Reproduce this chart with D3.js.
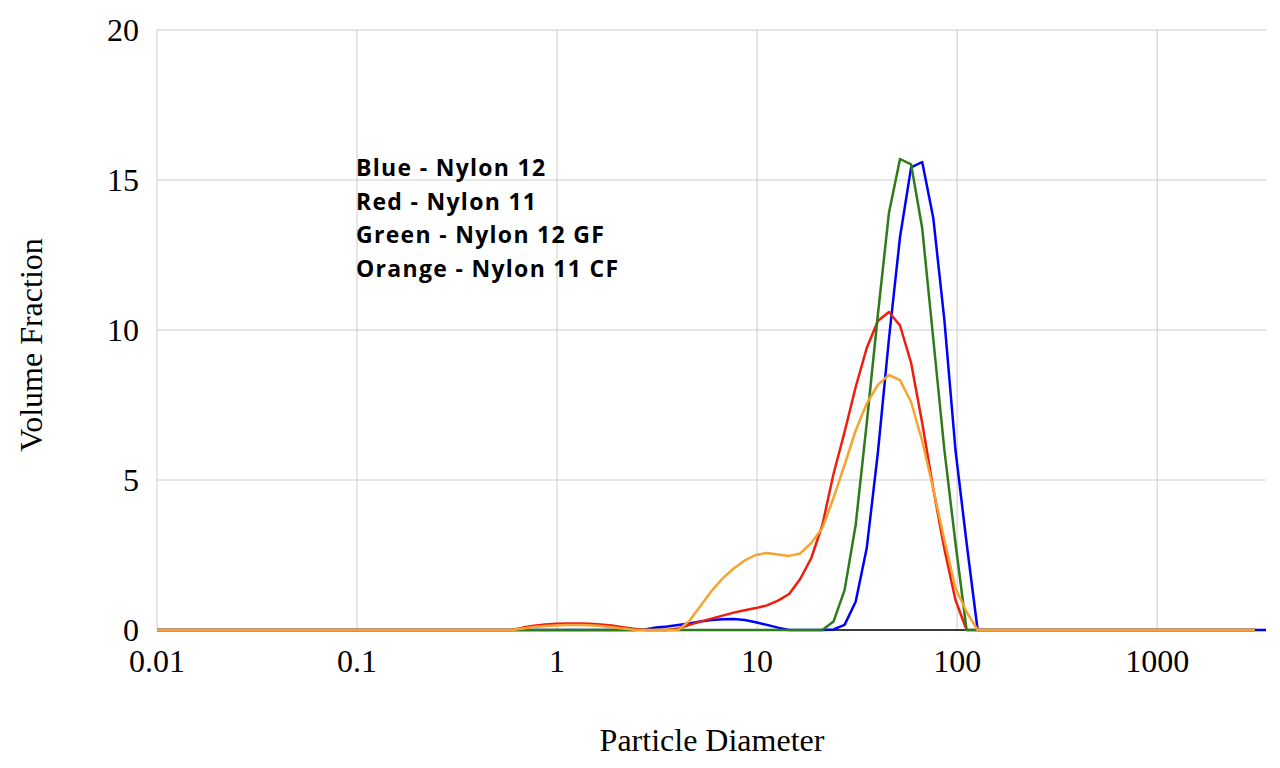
<!DOCTYPE html>
<html>
<head>
<meta charset="utf-8">
<script src="https://cdn.jsdelivr.net/npm/d3@7"></script>
<style>
  body { margin: 0; background: #fff; }
  .tick-label { font-family: "Liberation Serif", "Times New Roman", serif; font-size: 32px; fill: #000; }
  .axis-title { font-family: "Liberation Serif", "Times New Roman", serif; font-size: 32px; fill: #000; }
  .note { font-family: "Open Sans", sans-serif; font-weight: 700; font-size: 23px; letter-spacing: 1.3px; fill: #000; }
</style>
</head>
<body>
<div id="chart"></div>
<script>
// particle size bins (µm), log spaced; first/last are the ends of the measured range
var sizes = [0.01,
  0.4605, 0.5232, 0.5944, 0.6753, 0.7673, 0.8718, 0.9905, 1.125, 1.279, 1.453,
  1.651, 1.875, 2.131, 2.421, 2.751, 3.126, 3.551, 4.035, 4.584, 5.208,
  5.916, 6.722, 7.637, 8.677, 9.857, 11.20, 12.72, 14.46, 16.42, 18.66,
  21.20, 24.09, 27.37, 31.10, 35.33, 40.14, 45.61, 51.82, 58.88, 66.89,
  76.00, 86.35, 98.10, 111.5, 126.6, 143.9,
  3080, 3500];

var blue = [0,
  0, 0, 0, 0, 0, 0, 0, 0, 0, 0,
  0, 0, 0, 0, 0.02, 0.08, 0.12, 0.17, 0.22, 0.28,
  0.33, 0.36, 0.37, 0.33, 0.26, 0.17, 0.08, 0, 0, 0,
  0, 0.02, 0.17, 0.94, 2.73, 5.9, 9.7, 13.1, 15.42, 15.6,
  13.73, 10.33, 6.0, 2.9, 0, 0,
  0, 0];

var red = [0,
  0, 0, 0, 0.08, 0.14, 0.18, 0.21, 0.22, 0.22, 0.21,
  0.18, 0.15, 0.09, 0.04, 0, 0, 0, 0.05, 0.17, 0.28,
  0.38, 0.48, 0.58, 0.66, 0.73, 0.82, 0.98, 1.2, 1.7, 2.4,
  3.5, 5.2, 6.6, 8.1, 9.4, 10.3, 10.6, 10.15, 8.9, 6.9,
  4.7, 2.7, 1.0, 0, 0, 0,
  0, null];

var green = [0,
  0, 0, 0, 0, 0, 0, 0, 0, 0, 0,
  0, 0, 0, 0, 0, 0, 0, 0, 0, 0,
  0, 0, 0, 0, 0, 0, 0, 0, 0, 0,
  0, 0.28, 1.33, 3.5, 6.9, 10.5, 13.9, 15.7, 15.52, 13.39,
  9.7, 6.0, 2.9, 0, 0, 0,
  0, null];

var orange = [0,
  0, 0, 0, 0.05, 0.1, 0.13, 0.15, 0.17, 0.17, 0.16,
  0.13, 0.09, 0.05, 0.01, 0, 0, 0, 0, 0.3, 0.8,
  1.3, 1.72, 2.05, 2.32, 2.5, 2.57, 2.52, 2.47, 2.55, 2.9,
  3.4, 4.4, 5.5, 6.65, 7.55, 8.17, 8.5, 8.33, 7.6, 6.3,
  4.7, 3.0, 1.4, 0.6, 0, 0,
  0, null];

var xTicks = [0.01, 0.1, 1, 10, 100, 1000];
var xTickLabels = ["0.01", "0.1", "1", "10", "100", "1000"];
var yTicks = [0, 5, 10, 15, 20];
var notes = ["Blue - Nylon 12", "Red - Nylon 11", "Green - Nylon 12 GF", "Orange - Nylon 11 CF"];

var series = [
  {name: "Nylon 12", values: blue, color: "#0000ff"},
  {name: "Nylon 11", values: red, color: "#f01c0c"},
  {name: "Nylon 12 GF", values: green, color: "#2e7b1a"},
  {name: "Nylon 11 CF", values: orange, color: "#f5a431"}
];

var margin = {top: 30, right: 14, bottom: 138, left: 157};
var width = 1280 - margin.left - margin.right,
    height = 768 - margin.top - margin.bottom;

var svg = d3.select("#chart").append("svg")
    .attr("width", 1280)
    .attr("height", 768)
  .append("g")
    .attr("transform", "translate(" + margin.left + "," + margin.top + ")");

var x = d3.scaleLog().domain([0.01, 3500]).range([0, width]);
var y = d3.scaleLinear().domain([0, 20]).range([height, 0]);

// grid
svg.selectAll(".hgrid").data(yTicks).enter().append("line")
    .attr("x1", 0).attr("x2", width)
    .attr("y1", function(d) { return y(d); }).attr("y2", function(d) { return y(d); })
    .attr("stroke", "#cccccc").attr("stroke-width", 1);

svg.selectAll(".vgrid").data(xTicks).enter().append("line")
    .attr("x1", function(d) { return x(d); }).attr("x2", function(d) { return x(d); })
    .attr("y1", 0).attr("y2", height)
    .attr("stroke", "#cccccc").attr("stroke-width", 1);

// baseline
svg.append("line")
    .attr("x1", 0).attr("x2", width)
    .attr("y1", y(0)).attr("y2", y(0))
    .attr("stroke", "#000").attr("stroke-width", 1.5);

// tick labels
svg.selectAll(".ylab").data(yTicks).enter().append("text")
    .attr("class", "tick-label")
    .attr("x", -18)
    .attr("y", function(d) { return y(d); })
    .attr("dy", "0.35em")
    .attr("text-anchor", "end")
    .text(function(d) { return d; });

svg.selectAll(".xlab").data(xTicks).enter().append("text")
    .attr("class", "tick-label")
    .attr("x", function(d) { return x(d); })
    .attr("y", height + 42)
    .attr("text-anchor", "middle")
    .text(function(d, i) { return xTickLabels[i]; });

// axis titles
svg.append("text")
    .attr("class", "axis-title")
    .attr("x", 712 - margin.left)
    .attr("y", 751 - margin.top)
    .attr("text-anchor", "middle")
    .text("Particle Diameter");

svg.append("text")
    .attr("class", "axis-title")
    .attr("transform", "translate(" + (42 - margin.left) + "," + (345 - margin.top) + ") rotate(-90)")
    .attr("text-anchor", "middle")
    .text("Volume Fraction");

// lines
var line = d3.line()
    .defined(function(d) { return d[1] !== null; })
    .x(function(d) { return x(d[0]); })
    .y(function(d) { return y(d[1]); });

series.forEach(function(s) {
    var pts = sizes.map(function(d, i) { return [d, s.values[i]]; });
    svg.append("path")
        .datum(pts)
        .attr("fill", "none")
        .attr("stroke", s.color)
        .attr("stroke-width", 2.5)
        .attr("stroke-linejoin", "round")
        .attr("d", line);
});

// notes
svg.selectAll(".note").data(notes).enter().append("text")
    .attr("class", "note")
    .attr("x", 356 - margin.left)
    .attr("y", function(d, i) { return 176 - margin.top + i * 33.5; })
    .text(function(d) { return d; });
</script>
</body>
</html>
